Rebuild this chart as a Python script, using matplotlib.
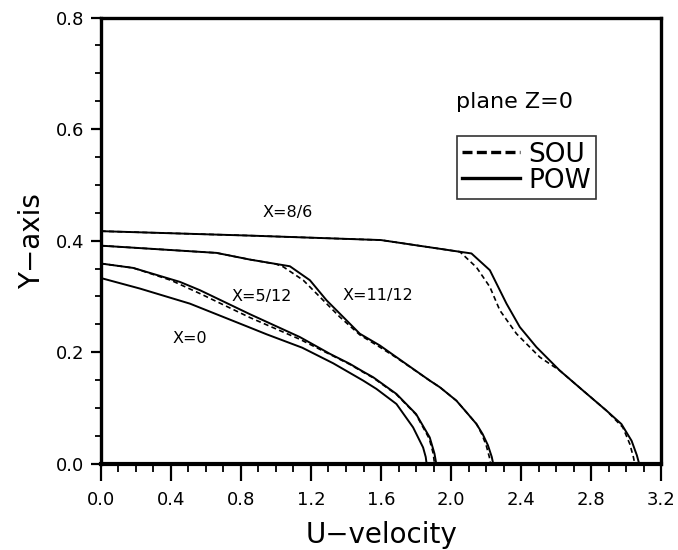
import matplotlib.pyplot as plt
from matplotlib.ticker import MultipleLocator

plt.rcParams['font.family'] = ['DejaVu Sans']

# X=0
u0_pow = [0.0, 0.224, 0.509, 0.852, 0.947, 1.15, 1.327, 1.498, 1.574, 1.688, 1.783, 1.840, 1.855, 1.86]
y0_pow = [0.333, 0.314, 0.287, 0.244, 0.232, 0.208, 0.180, 0.149, 0.134, 0.107, 0.065, 0.029, 0.012, 0.0]

# X=5/12
u1_pow = [0.0, 0.186, 0.452, 0.567, 0.852, 1.137, 1.308, 1.422, 1.498, 1.555, 1.688, 1.80, 1.878, 1.905, 1.915]
y1_pow = [0.359, 0.351, 0.326, 0.311, 0.268, 0.227, 0.197, 0.179, 0.165, 0.155, 0.125, 0.089, 0.047, 0.018, 0.0]
u1_sou = [0.0, 0.186, 0.40, 0.567, 0.852, 1.137, 1.308, 1.422, 1.498, 1.555, 1.688, 1.80, 1.875, 1.898, 1.905]
y1_sou = [0.359, 0.351, 0.329, 0.305, 0.262, 0.223, 0.196, 0.178, 0.164, 0.154, 0.124, 0.088, 0.045, 0.018, 0.0]

# X=11/12
u2_pow = [0.0, 0.661, 0.852, 1.080, 1.194, 1.289, 1.384, 1.479, 1.593, 1.688, 1.878, 1.936, 2.03, 2.088,
          2.145, 2.18, 2.21, 2.232, 2.24]
y2_pow = [0.391, 0.378, 0.366, 0.354, 0.329, 0.293, 0.263, 0.233, 0.212, 0.191, 0.149, 0.137, 0.113, 0.092,
          0.071, 0.053, 0.033, 0.012, 0.0]
u2_sou = [0.0, 0.661, 0.852, 1.0, 1.042, 1.156, 1.251, 1.365, 1.479, 1.593, 1.688, 1.878, 1.936, 2.03, 2.088,
          2.145, 2.175, 2.20, 2.218, 2.225]
y2_sou = [0.391, 0.378, 0.366, 0.358, 0.353, 0.329, 0.299, 0.263, 0.231, 0.209, 0.190, 0.149, 0.137, 0.113, 0.092,
          0.071, 0.053, 0.033, 0.012, 0.0]

# X=8/6
u3_pow = [0.0, 0.852, 1.6, 2.05, 2.116, 2.221, 2.316, 2.392, 2.487, 2.62, 2.753, 2.887, 2.972, 3.03, 3.06, 3.073]
y3_pow = [0.417, 0.409, 0.401, 0.380, 0.377, 0.347, 0.287, 0.245, 0.209, 0.167, 0.131, 0.095, 0.071, 0.041, 0.015, 0.0]
u3_sou = [0.0, 0.852, 1.6, 2.05, 2.145, 2.221, 2.278, 2.373, 2.506, 2.62, 2.753, 2.887, 2.98, 3.02, 3.04, 3.048]
y3_sou = [0.417, 0.409, 0.401, 0.380, 0.352, 0.317, 0.275, 0.233, 0.191, 0.167, 0.131, 0.095, 0.065, 0.035, 0.012, 0.0]

fig = plt.figure(figsize=(6.78, 5.5), dpi=100)
ax = fig.add_axes([0.1485, 0.157, 0.827, 0.811])

dash = (0, (3, 2))
ax.plot(u0_pow, y0_pow, color='black', lw=1.4)
ax.plot(u1_sou, y1_sou, color='black', lw=1.2, ls=dash)
ax.plot(u1_pow, y1_pow, color='black', lw=1.4)
ax.plot(u2_sou, y2_sou, color='black', lw=1.2, ls=dash)
ax.plot(u2_pow, y2_pow, color='black', lw=1.4)
ax.plot(u3_sou, y3_sou, color='black', lw=1.2, ls=dash)
ax.plot(u3_pow, y3_pow, color='black', lw=1.4)

# legend handles
h_sou, = ax.plot([], [], color='black', lw=2.4, ls=(0, (3, 1.3)), label='SOU')
h_pow, = ax.plot([], [], color='black', lw=2.4, label='POW')
leg = ax.legend(handles=[h_sou, h_pow], loc='upper left', bbox_to_anchor=(0.635, 0.734),
                fontsize=19, frameon=True, fancybox=False, handlelength=2.2,
                handletextpad=0.3, borderpad=0.2, labelspacing=0.0, borderaxespad=0)
leg.get_frame().set_edgecolor('black')
leg.get_frame().set_linewidth(1.2)

ax.text(2.36, 0.649, 'plane Z=0', fontsize=16, ha='center', va='center')
ax.text(1.066, 0.45, 'X=8/6', fontsize=11.5, ha='center', va='center')
ax.text(0.92, 0.299, 'X=5/12', fontsize=11.5, ha='center', va='center')
ax.text(1.58, 0.302, 'X=11/12', fontsize=11.5, ha='center', va='center')
ax.text(0.51, 0.224, 'X=0', fontsize=11.5, ha='center', va='center')

ax.set_xlim(0, 3.2)
ax.set_ylim(0, 0.8)
ax.xaxis.set_major_locator(MultipleLocator(0.4))
ax.xaxis.set_minor_locator(MultipleLocator(0.1))
ax.yaxis.set_major_locator(MultipleLocator(0.2))
ax.yaxis.set_minor_locator(MultipleLocator(0.05))
ax.set_xticklabels([f'{v:.1f}' for v in ax.get_xticks()])
ax.set_yticklabels([f'{v:.1f}' for v in ax.get_yticks()])
ax.tick_params(which='major', direction='out', width=1.6, labelsize=13)
ax.tick_params(which='minor', direction='out', width=1.3)
ax.tick_params(axis='x', which='major', length=12, pad=8)
ax.tick_params(axis='x', which='minor', length=6)
ax.tick_params(axis='y', which='major', length=7, pad=5)
ax.tick_params(axis='y', which='minor', length=4)
for s in ax.spines.values():
    s.set_linewidth(2.4)
ax.spines['bottom'].set_linewidth(3.0)

ax.set_xlabel('U\u2212velocity', fontsize=20, labelpad=8)
ax.set_ylabel('Y\u2212axis', fontsize=20, labelpad=7)

fig.savefig('out.png', dpi=100)
